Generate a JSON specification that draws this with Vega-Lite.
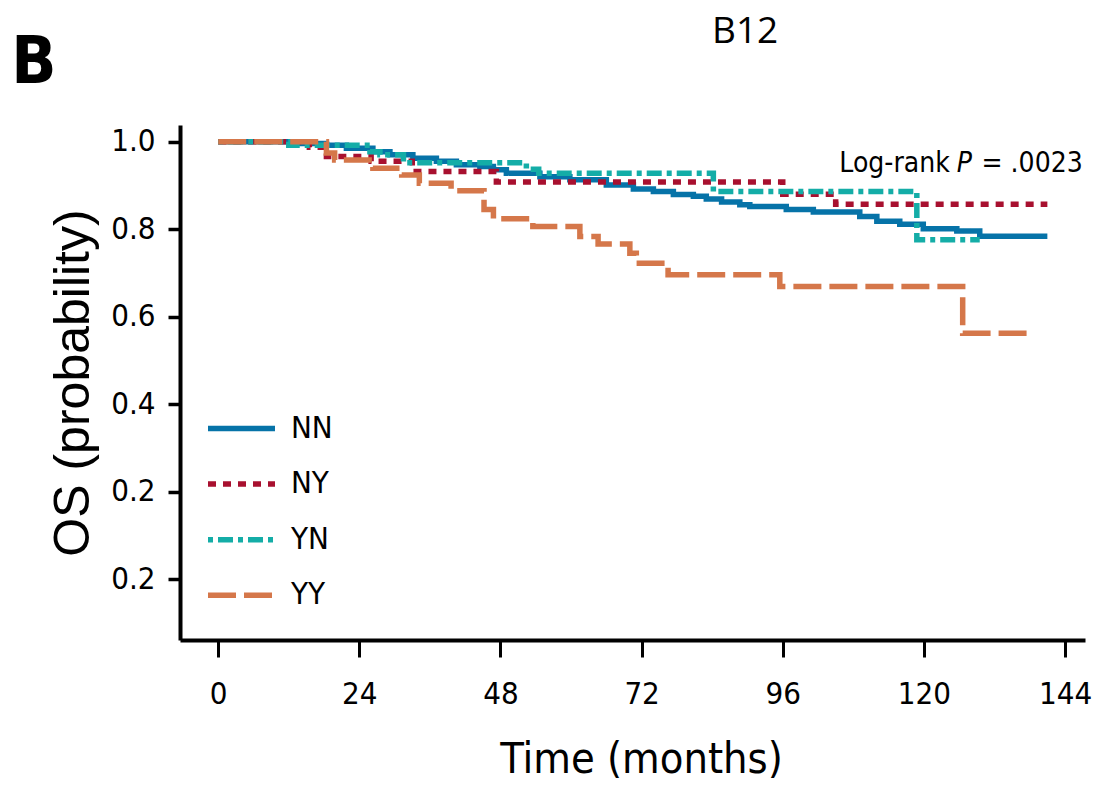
{
  "$schema": "https://vega.github.io/schema/vega-lite/v6.json",
  "width": 905,
  "height": 515,
  "autosize": {"type": "none"},
  "padding": {"left": 180, "top": 125, "right": 14, "bottom": 150},
  "background": "white",
  "config": {"view": {"stroke": null}},
  "datasets": {
    "km": [
      {"group": "NN", "time": 0, "surv": 1.0},
      {"group": "NN", "time": 14.2, "surv": 0.996},
      {"group": "NN", "time": 18.4, "surv": 0.992},
      {"group": "NN", "time": 21.8, "surv": 0.985},
      {"group": "NN", "time": 26.3, "surv": 0.977},
      {"group": "NN", "time": 29.2, "surv": 0.970},
      {"group": "NN", "time": 33.1, "surv": 0.962},
      {"group": "NN", "time": 37.1, "surv": 0.955},
      {"group": "NN", "time": 40.5, "surv": 0.947},
      {"group": "NN", "time": 44.5, "surv": 0.943},
      {"group": "NN", "time": 46.8, "surv": 0.936},
      {"group": "NN", "time": 49.0, "surv": 0.928},
      {"group": "NN", "time": 54.7, "surv": 0.920},
      {"group": "NN", "time": 59.8, "surv": 0.913},
      {"group": "NN", "time": 66.0, "surv": 0.901},
      {"group": "NN", "time": 70.6, "surv": 0.892},
      {"group": "NN", "time": 74.0, "surv": 0.886},
      {"group": "NN", "time": 77.4, "surv": 0.879},
      {"group": "NN", "time": 80.8, "surv": 0.875},
      {"group": "NN", "time": 83.0, "surv": 0.869},
      {"group": "NN", "time": 85.6, "surv": 0.862},
      {"group": "NN", "time": 88.7, "surv": 0.856},
      {"group": "NN", "time": 90.4, "surv": 0.852},
      {"group": "NN", "time": 96.6, "surv": 0.845},
      {"group": "NN", "time": 101.2, "surv": 0.839},
      {"group": "NN", "time": 109.1, "surv": 0.829},
      {"group": "NN", "time": 112.0, "surv": 0.818},
      {"group": "NN", "time": 115.9, "surv": 0.811},
      {"group": "NN", "time": 119.9, "surv": 0.801},
      {"group": "NN", "time": 125.6, "surv": 0.796},
      {"group": "NN", "time": 129.5, "surv": 0.784},
      {"group": "NN", "time": 141.0, "surv": 0.784},
      {"group": "NY", "time": 0, "surv": 1.0},
      {"group": "NY", "time": 15.5, "surv": 0.987},
      {"group": "NY", "time": 18.4, "surv": 0.966},
      {"group": "NY", "time": 26.0, "surv": 0.955},
      {"group": "NY", "time": 33.0, "surv": 0.932},
      {"group": "NY", "time": 47.3, "surv": 0.908},
      {"group": "NY", "time": 96.0, "surv": 0.880},
      {"group": "NY", "time": 105.0, "surv": 0.857},
      {"group": "NY", "time": 141.0, "surv": 0.857},
      {"group": "YN", "time": 0, "surv": 1.0},
      {"group": "YN", "time": 12.0, "surv": 0.992},
      {"group": "YN", "time": 25.8, "surv": 0.977},
      {"group": "YN", "time": 27.5, "surv": 0.970},
      {"group": "YN", "time": 31.5, "surv": 0.952},
      {"group": "YN", "time": 52.4, "surv": 0.937},
      {"group": "YN", "time": 54.5, "surv": 0.928},
      {"group": "YN", "time": 84.2, "surv": 0.886},
      {"group": "YN", "time": 118.8, "surv": 0.776},
      {"group": "YN", "time": 129.5, "surv": 0.776},
      {"group": "YY", "time": 0, "surv": 1.0},
      {"group": "YY", "time": 18.4, "surv": 0.974},
      {"group": "YY", "time": 19.8, "surv": 0.958},
      {"group": "YY", "time": 26.3, "surv": 0.939},
      {"group": "YY", "time": 31.2, "surv": 0.924},
      {"group": "YY", "time": 34.2, "surv": 0.905},
      {"group": "YY", "time": 39.6, "surv": 0.888},
      {"group": "YY", "time": 45.2, "surv": 0.845},
      {"group": "YY", "time": 46.8, "surv": 0.824},
      {"group": "YY", "time": 53.5, "surv": 0.806},
      {"group": "YY", "time": 61.5, "surv": 0.783},
      {"group": "YY", "time": 64.6, "surv": 0.766},
      {"group": "YY", "time": 70.0, "surv": 0.745},
      {"group": "YY", "time": 71.1, "surv": 0.722},
      {"group": "YY", "time": 76.5, "surv": 0.696},
      {"group": "YY", "time": 95.5, "surv": 0.669},
      {"group": "YY", "time": 126.6, "surv": 0.562},
      {"group": "YY", "time": 138.0, "surv": 0.562}
    ]
  },
  "layer": [
    {
      "data": {"name": "km"},
      "mark": {"type": "line", "interpolate": "step-after", "strokeWidth": 5.5, "strokeCap": "butt"},
      "encoding": {
        "x": {
          "field": "time", "type": "quantitative",
          "scale": {"domain": [-6.5, 147.4], "nice": false, "zero": false},
          "axis": {
            "values": [0, 24, 48, 72, 96, 120, 144],
            "title": "Time (months)",
            "titleFont": "DejaVu Sans Condensed, sans-serif",
            "titleFontSize": 43, "titleFontWeight": "normal", "titleColor": "black", "titlePadding": 29,
            "titleX": 461,
            "labelFont": "DejaVu Sans Condensed, sans-serif",
            "labelFontSize": 31, "labelColor": "black", "labelPadding": 22,
            "tickSize": 17, "tickWidth": 3, "tickColor": "black",
            "domainColor": "black", "domainWidth": 4, "grid": false,
            "labelFlush": false, "labelOverlap": false
          }
        },
        "y": {
          "field": "surv", "type": "quantitative",
          "scale": {"domain": [-0.139, 1.038], "nice": false, "zero": false},
          "axis": {
            "values": [0, 0.2, 0.4, 0.6, 0.8, 1.0],
            "labelExpr": "datum.value == 0 ? '0.2' : format(datum.value, '.1f')",
            "title": "OS (probability)",
            "titleFont": "Liberation Sans, Arial, sans-serif",
            "titleFontSize": 50, "titleFontWeight": "normal", "titleColor": "black", "titlePadding": 12,
            "labelFont": "DejaVu Sans Condensed, sans-serif",
            "labelFontSize": 31, "labelColor": "black", "labelPadding": 13,
            "tickSize": 12, "tickWidth": 3.5, "tickColor": "black",
            "domainColor": "black", "domainWidth": 4, "grid": false,
            "labelFlush": false, "labelOverlap": false
          }
        },
        "color": {
          "field": "group", "type": "nominal",
          "scale": {"domain": ["NN", "NY", "YN", "YY"], "range": ["#0673A8", "#A8102F", "#14ADA7", "#D5774A"]},
          "legend": {
            "title": null, "orient": "none", "legendX": 25, "legendY": 267,
            "symbolType": "stroke", "symbolSize": 4489, "symbolStrokeWidth": 5.5,
            "labelFont": "DejaVu Sans Condensed, sans-serif",
            "labelFontSize": 31, "labelColor": "black", "labelOffset": 13,
            "rowPadding": 3.6, "padding": 0, "labelLimit": 0
          }
        },
        "strokeDash": {
          "field": "group", "type": "nominal",
          "scale": {"domain": ["NN", "NY", "YN", "YY"], "range": [[1, 0], [8, 7], [5, 5, 15, 5], [28, 8]]},
          "legend": {
            "title": null, "orient": "none", "legendX": 25, "legendY": 267,
            "symbolType": "stroke", "symbolSize": 4489, "symbolStrokeWidth": 5.5,
            "labelFont": "DejaVu Sans Condensed, sans-serif",
            "labelFontSize": 31, "labelColor": "black", "labelOffset": 13,
            "rowPadding": 3.6, "padding": 0, "labelLimit": 0
          }
        }
      }
    },
    {
      "data": {"values": [{}]},
      "mark": {"type": "text", "text": "Log-rank", "align": "right", "baseline": "alphabetic", "font": "DejaVu Sans Condensed, sans-serif", "fontSize": 28, "color": "black"},
      "encoding": {"x": {"datum": 124.4, "type": "quantitative"}, "y": {"datum": 0.931, "type": "quantitative"}}
    },
    {
      "data": {"values": [{}]},
      "mark": {"type": "text", "text": "P", "align": "center", "baseline": "alphabetic", "fontStyle": "italic", "font": "DejaVu Sans Condensed, sans-serif", "fontSize": 28, "color": "black"},
      "encoding": {"x": {"datum": 126.9, "type": "quantitative"}, "y": {"datum": 0.931, "type": "quantitative"}}
    },
    {
      "data": {"values": [{}]},
      "mark": {"type": "text", "text": "= .0023", "align": "left", "baseline": "alphabetic", "font": "DejaVu Sans Condensed, sans-serif", "fontSize": 28, "color": "black"},
      "encoding": {"x": {"datum": 129.8, "type": "quantitative"}, "y": {"datum": 0.931, "type": "quantitative"}}
    },
    {
      "data": {"values": [{}]},
      "mark": {"type": "text", "text": "B", "align": "left", "baseline": "alphabetic", "fontWeight": "bold", "font": "DejaVu Sans Condensed, sans-serif", "fontSize": 66, "color": "black"},
      "encoding": {"x": {"datum": -35.2, "type": "quantitative"}, "y": {"datum": 1.135, "type": "quantitative"}}
    },
    {
      "data": {"values": [{}]},
      "mark": {"type": "text", "text": "B12", "align": "center", "baseline": "alphabetic", "font": "Open Sans, sans-serif", "fontSize": 37, "color": "black"},
      "encoding": {"x": {"datum": 89.6, "type": "quantitative"}, "y": {"datum": 1.226, "type": "quantitative"}}
    }
  ]
}
